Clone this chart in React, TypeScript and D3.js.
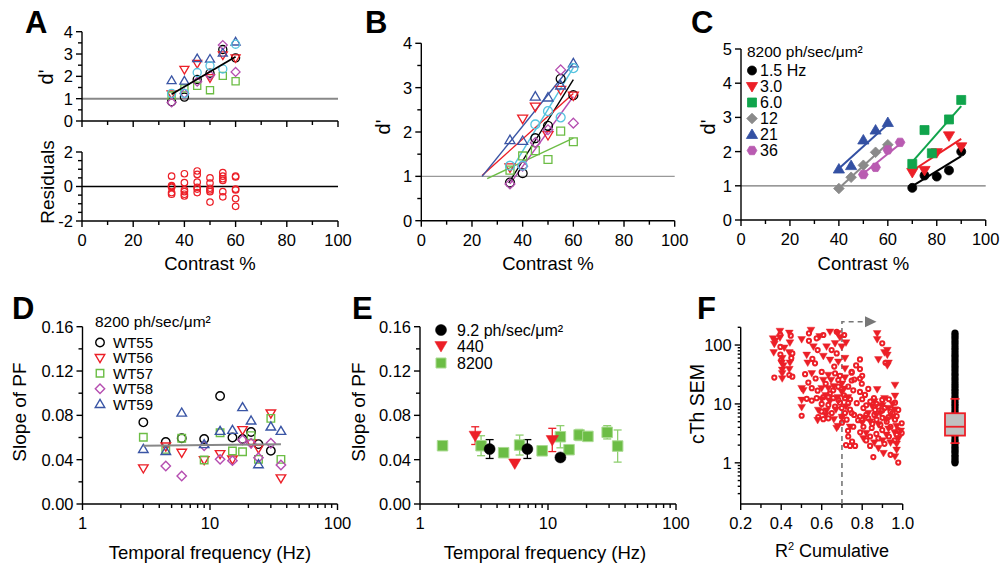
import React from 'react';
import * as d3 from 'd3';

const FONT = "'Liberation Sans', Arial, Helvetica, sans-serif";

// ---- colours ----
const BLACK = '#000';
const RED = '#ec1f27';
const GREEN = '#6cbd45';
const MAGENTA = '#b54db0';
const BLUE = '#3a55a5';
const CYAN = '#55c3df';
const C_GREEN = '#10a44c';
const C_GREY = '#8a8a8a';
const C_MAGENTA = '#b95bb1';
const C_BLUE = '#3350a3';

// ---- panels A / B : d' vs contrast ----
const contrasts = [35, 40, 45, 50, 55, 60];
const dWT55 = [0.86, 1.07, 1.86, 2.14, 3.2, 2.83];
const dWT56 = [1.2, 2.3, 2.57, 1.93, 2.95, 2.82];
const dWT57 = [1.14, 1.46, 1.58, 1.38, 2.02, 1.78];
const dWT58 = [0.83, 1.23, 1.76, 2.05, 3.4, 2.2];
const dWT59 = [1.82, 1.8, 2.8, 2.78, 3.05, 3.55];
const dMean = [1.24, 1.24, 2.17, 2.47, 2.33, 3.44];
// fit lines: [c0, d0, c1, d1]
const fitWT55 = [34.5, 0.85, 60, 3.18];
const fitWT56 = [24, 1.02, 60, 2.87];
const fitWT57 = [26, 0.95, 60, 1.86];
const fitWT58 = [35, 0.83, 60, 2.8];
const fitWT59 = [24, 1.0, 60, 3.55];
const fitMean = [35, 1.1, 60, 3.45];
const fitPooled = [35, 1.2, 60, 2.88];
// residuals per contrast
const residuals = [
  [0.6, 0.05, -0.05, -0.35, -0.45, 0.0],
  [0.74, 0.22, -0.3, -0.45, -0.55, -0.2],
  [0.9, 0.7, 0.25, -0.15, -0.35, -0.05],
  [0.5, 0.2, -0.2, -0.3, -0.9, -0.1],
  [0.8, 0.6, 0.35, -0.3, -0.6, 0.45],
  [0.6, 0.55, -0.15, -0.7, -1.15, -0.2],
];

// ---- panel C ----
const cLabels = ['1.5 Hz', '3.0', '6.0', '12', '21', '36'];
const c15x = [70, 75, 80, 85, 90];
const c15y = [0.94, 1.3, 1.27, 1.45, 2.0];
const c30x = [70, 75, 80, 85, 90];
const c30y = [1.39, 1.45, 1.97, 2.46, 2.14];
const c60x = [70, 75, 78, 85, 90];
const c60y = [1.64, 2.63, 1.95, 2.94, 3.51];
const c12x = [40, 45, 50, 55, 60];
const c12y = [0.92, 1.25, 1.6, 1.98, 2.2];
const c21x = [40, 45, 50, 55, 60];
const c21y = [1.49, 1.59, 2.34, 2.63, 2.85];
const c36x = [50, 55, 60, 65];
const c36y = [1.33, 1.54, 2.05, 2.27];
const cFit15 = [70, 0.99, 90, 1.87];
const cFit30 = [70, 1.44, 90, 2.37];
const cFit60 = [70, 1.7, 90, 3.33];
const cFit12 = [39, 0.86, 60, 2.24];
const cFit21 = [39, 1.44, 60, 2.8];
const cFit36 = [49, 1.3, 65, 2.22];

// ---- panel D ----
const dFreq = [3, 4.5, 6, 9, 12, 15, 18, 21, 24, 30, 36];
const sWT55 = [0.0737, 0.056, 0.0593, 0.0587, 0.0975, 0.06, 0.0587, 0.065, 0.054, 0.048, null];
const sWT56 = [0.0322, 0.052, 0.0463, 0.0397, 0.0451, 0.0403, 0.0668, 0.055, 0.0502, 0.0818, 0.0232];
const sWT57 = [0.0602, 0.0493, 0.0593, 0.0397, 0.0643, 0.0478, 0.0472, 0.0617, 0.0403, 0.0773, 0.0403];
const sWT58 = [null, 0.0343, 0.0253, 0.0526, 0.0403, 0.0391, 0.0578, 0.0548, 0.0418, 0.0548, 0.0352];
const sWT59 = [0.0496, 0.0478, 0.0824, 0.0539, 0.0659, 0.0668, 0.0873, 0.0752, 0.0358, 0.0698, 0.0659];
const dFit = [3, 0.0526, 36, 0.054];

// ---- panel E ----
const e92f = [3.5, 6.9, 12.5];
const e92s = [0.0496, 0.0496, 0.042];
const e92err = [0.0085, 0.0085, 0];
const e440f = [2.7, 5.5, 10.8];
const e440s = [0.0617, 0.0367, 0.0578];
const e440err = [0.008, 0, 0.0105];
const e8200f = [1.5, 3.0, 4.5, 6.0, 9.0, 12.5, 14.6, 17.5, 20.5, 29, 35];
const e8200s = [0.0526, 0.0526, 0.0463, 0.0532, 0.048, 0.0607, 0.049, 0.0623, 0.061, 0.0647, 0.0523];
const e8200err = [0.002, 0.009, 0.002, 0.009, 0.002, 0.01, 0.003, 0.005, 0.002, 0.006, 0.0145];

// ---- panel F ----
const fTri = [
  [0.394, 173], [0.36, 129], [0.366, 104], [0.394, 134], [0.44, 161], [0.443, 110], [0.363, 75], [0.44, 75],
  [0.405, 60], [0.402, 50], [0.443, 50], [0.44, 39], [0.405, 38], [0.405, 33], [0.405, 27], [0.37, 118],
  [0.415, 90], [0.41, 45],
  [0.501, 125], [0.547, 180], [0.641, 168], [0.679, 158], [0.559, 94], [0.624, 94], [0.666, 107], [0.699, 94],
  [0.526, 68], [0.531, 50], [0.608, 65], [0.641, 56], [0.682, 52], [0.715, 60], [0.715, 40], [0.551, 33],
  [0.633, 31], [0.608, 25.5], [0.646, 25.5], [0.715, 28], [0.501, 18.5], [0.509, 17], [0.6, 18.5], [0.633, 18.5],
  [0.699, 16], [0.501, 11.7], [0.501, 8.8], [0.583, 7.9], [0.624, 7.7], [0.674, 3.9], [0.74, 4.1], [0.69, 135],
  [0.59, 140], [0.72, 110], [0.66, 20], [0.7, 22], [0.62, 14], [0.68, 13], [0.72, 9], [0.7, 6], [0.66, 5.5],
  [0.58, 5.3], [0.68, 4.2], [0.64, 11], [0.6, 12], [0.71, 18], [0.73, 13], [0.67, 8], [0.62, 6.5],
  [0.874, 158], [0.874, 125], [0.924, 82], [0.924, 68], [0.924, 45], [0.88, 57], [0.962, 21], [0.874, 17.7],
  [0.962, 13.7], [0.806, 2.6], [0.88, 1.78], [0.905, 1.46], [0.97, 1.66], [0.962, 1.28], [0.91, 75], [0.93, 50],
  [0.85, 9], [0.87, 6.5], [0.9, 9.5], [0.93, 8.5], [0.95, 6], [0.97, 4.2], [0.96, 3.3], [0.92, 3.0], [0.88, 4.5],
  [0.84, 5], [0.82, 3.2], [0.86, 2.2], [0.9, 2.4], [0.94, 2.2], [0.98, 2.6], [0.99, 3.5], [0.95, 10], [0.91, 12.5],
  [0.8, 4.8], [0.83, 7], [0.89, 7], [0.92, 5.5], [0.96, 8], [0.86, 11], [0.81, 5.8], [0.93, 3.8], [0.97, 2.1],
];
const fCirc = [
  [0.447, 144], [0.396, 93], [0.396, 69], [0.455, 72], [0.366, 28], [0.455, 29], [0.4, 55], [0.45, 60],
  [0.44, 31], [0.395, 150],
  [0.537, 158], [0.537, 118], [0.575, 130], [0.608, 148], [0.674, 168], [0.711, 148], [0.58, 82], [0.649, 82],
  [0.674, 72], [0.554, 58], [0.567, 49], [0.662, 43], [0.748, 35], [0.518, 32], [0.6, 35], [0.666, 33],
  [0.534, 23], [0.682, 25.5], [0.748, 25], [0.551, 18.5], [0.58, 16.8], [0.657, 17], [0.682, 19.6], [0.731, 19.6],
  [0.756, 17], [0.526, 12.2], [0.551, 11.4], [0.575, 12.5], [0.608, 13], [0.633, 13.3], [0.657, 12.5], [0.682, 11.7],
  [0.715, 12.5], [0.731, 10.3], [0.633, 9.6], [0.666, 9.0], [0.699, 8.5], [0.6, 7.4], [0.583, 6.0], [0.608, 5.5],
  [0.633, 5.7], [0.501, 6.3], [0.715, 7.0], [0.723, 5.4], [0.699, 6.1], [0.731, 2.8], [0.74, 1.94], [0.62, 22],
  [0.64, 15], [0.69, 10.5], [0.71, 14], [0.6, 10], [0.65, 7], [0.74, 8], [0.74, 12], [0.76, 6.5], [0.73, 3.5],
  [0.7, 4.8], [0.57, 27], [0.69, 30], [0.75, 2.3], [0.72, 2.0],
  [0.899, 107], [0.915, 50], [0.789, 57], [0.789, 39], [0.748, 34], [0.761, 26], [0.789, 27], [0.798, 22],
  [0.789, 16], [0.814, 14.2], [0.858, 12.5], [0.899, 11.7], [0.932, 12], [0.962, 10.5], [0.773, 10.3], [0.748, 7.0],
  [0.806, 8.5], [0.864, 7.9], [0.899, 7.7], [0.94, 7.4], [0.978, 7.9], [0.789, 6.1], [0.83, 5.7], [0.871, 5.4],
  [0.921, 5.0], [0.962, 5.4], [0.995, 4.7], [0.756, 4.1], [0.806, 4.1], [0.847, 3.9], [0.899, 3.6], [0.94, 4.1],
  [0.978, 3.6], [0.839, 2.8], [0.88, 2.6], [0.932, 2.8], [0.97, 3.0], [0.995, 3.2], [0.765, 1.94], [0.839, 1.94],
  [0.855, 1.25], [0.94, 1.37], [0.978, 1.01], [0.82, 9.5], [0.84, 11], [0.86, 6.5], [0.88, 9], [0.91, 8.5],
  [0.93, 6], [0.95, 7], [0.97, 6.2], [0.89, 4.4], [0.85, 4.6], [0.82, 6.5], [0.8, 12], [0.83, 18], [0.87, 10],
  [0.9, 5.8], [0.96, 2.4], [0.91, 2.1], [0.87, 3.1], [0.82, 2.4], [0.79, 3.3], [0.78, 5.3], [0.8, 30], [0.77, 45],
];
const fSemAll = [1.0, 1.05, 1.15, 1.25, 1.35, 1.5, 1.6, 1.75, 1.9, 2.1, 2.3, 2.5, 2.8, 3.1, 3.4, 3.8, 4.2, 4.6,
  5.1, 5.6, 6.2, 6.8, 7.5, 8.3, 9.2, 10, 11, 12.2, 13.5, 15, 16.5, 18, 20, 22, 24.5, 27, 30, 33, 37, 41, 45, 50,
  55, 61, 67, 74, 82, 90, 100, 110, 122, 135, 148, 160];
const fBox = { lo: 2.16, q1: 2.9, med: 4.1, q3: 6.95, hi: 12.2 };
const fCutoff = 0.7;

type Shape = 'circle' | 'triUp' | 'triDown' | 'square' | 'diamond' | 'hex';

function markerPath(shape: Shape, s: number) {
  const h = s / 2;
  switch (shape) {
    case 'triUp': return `M0,${-h * 1.1}L${h * 1.12},${h * 0.8}L${-h * 1.12},${h * 0.8}Z`;
    case 'triDown': return `M0,${h * 1.1}L${h * 1.12},${-h * 0.8}L${-h * 1.12},${-h * 0.8}Z`;
    case 'square': return `M${-h},${-h}H${h}V${h}H${-h}Z`;
    case 'diamond': return `M0,${-h * 1.25}L${h * 1.25},0L0,${h * 1.25}L${-h * 1.25},0Z`;
    case 'hex': {
      const r = h * 1.08;
      const pts = d3.range(6).map(i => {
        const a = (Math.PI / 3) * i;
        return [r * Math.cos(a), r * Math.sin(a)];
      });
      return 'M' + pts.map(p => p.join(',')).join('L') + 'Z';
    }
    default: return `M${h},0A${h},${h} 0 1,1 ${-h},0A${h},${h} 0 1,1 ${h},0Z`;
  }
}

function Mk({ shape, x, y, size, color, filled = false, sw = 1.3, stroke }: any) {
  return (
    <path
      transform={`translate(${x},${y})`}
      d={markerPath(shape, size)}
      fill={filled ? color : 'none'}
      stroke={stroke || color}
      strokeWidth={sw}
    />
  );
}

function BottomAxis({ scale, y, major, minor = [], labels = true, fmt = (v: number) => String(v), minorLen = 4 }: any) {
  const [a, b] = scale.range();
  return (
    <g>
      <g stroke="#000" strokeWidth={1.4}>
        <line x1={a} x2={b} y1={y} y2={y} />
        {major.map((v: number) => <line key={'M' + v} x1={scale(v)} x2={scale(v)} y1={y} y2={y + 6} />)}
        {minor.map((v: number) => <line key={'m' + v} x1={scale(v)} x2={scale(v)} y1={y} y2={y + minorLen} />)}
      </g>
      {labels && major.map((v: number) => (
        <text key={'t' + v} x={scale(v)} y={y + 25} textAnchor="middle" fontSize={16.5}>{fmt(v)}</text>
      ))}
    </g>
  );
}

function LeftAxis({ scale, x, major, minor = [], fmt = (v: number) => String(v), minorLen = 4 }: any) {
  const [a, b] = scale.range();
  return (
    <g>
      <g stroke="#000" strokeWidth={1.4}>
        <line x1={x} x2={x} y1={a} y2={b} />
        {major.map((v: number) => <line key={'M' + v} x1={x - 6} x2={x} y1={scale(v)} y2={scale(v)} />)}
        {minor.map((v: number) => <line key={'m' + v} x1={x - minorLen} x2={x} y1={scale(v)} y2={scale(v)} />)}
      </g>
      {major.map((v: number) => (
        <text key={'t' + v} x={x - 9} y={scale(v)} dy="0.36em" textAnchor="end" fontSize={16.5}>{fmt(v)}</text>
      ))}
    </g>
  );
}

function FitLine({ fit, sx, sy, color, w = 1.4 }: any) {
  return <line x1={sx(fit[0])} y1={sy(fit[1])} x2={sx(fit[2])} y2={sy(fit[3])} stroke={color} strokeWidth={w} />;
}

function PanelLetter({ x, y, t }: any) {
  return <text x={x} y={y} fontSize={31} fontWeight="bold">{t}</text>;
}

function YTitle({ x, y, children, size = 19 }: any) {
  return (
    <text transform={`translate(${x},${y}) rotate(-90)`} textAnchor="middle" dy="0.35em" fontSize={size}>{children}</text>
  );
}

export default function App() {
  const W = 1001, H = 564;

  const wt = [
    { key: 'WT55', shape: 'circle', color: BLACK, d: dWT55, fit: fitWT55, s: sWT55, size: 8.5 },
    { key: 'WT56', shape: 'triDown', color: RED, d: dWT56, fit: fitWT56, s: sWT56, size: 8.5 },
    { key: 'WT57', shape: 'square', color: GREEN, d: dWT57, fit: fitWT57, s: sWT57, size: 7.5 },
    { key: 'WT58', shape: 'diamond', color: MAGENTA, d: dWT58, fit: fitWT58, s: sWT58, size: 7.5 },
    { key: 'WT59', shape: 'triUp', color: BLUE, d: dWT59, fit: fitWT59, s: sWT59, size: 8.5 },
  ];
  const ab = [...wt, { key: 'mean', shape: 'circle', color: CYAN, d: dMean, fit: fitMean, s: [], size: 8.5 }];

  const cSeries = [
    { shape: 'circle', color: BLACK, x: c15x, y: c15y, fit: cFit15, size: 9 },
    { shape: 'triDown', color: RED, x: c30x, y: c30y, fit: cFit30, size: 10 },
    { shape: 'square', color: C_GREEN, x: c60x, y: c60y, fit: cFit60, size: 9 },
    { shape: 'diamond', color: C_GREY, x: c12x, y: c12y, fit: cFit12, size: 8.5 },
    { shape: 'triUp', color: C_BLUE, x: c21x, y: c21y, fit: cFit21, size: 10 },
    { shape: 'hex', color: C_MAGENTA, x: c36x, y: c36y, fit: cFit36, size: 9 },
  ];

  // scales
  const axA = d3.scaleLinear().domain([0, 100]).range([82, 338]);
  const ayA = d3.scaleLinear().domain([0, 4]).range([121, 31.7]);
  const ayR = d3.scaleLinear().domain([-2, 2]).range([221, 152]);
  const axB = d3.scaleLinear().domain([0, 100]).range([421.3, 674.7]);
  const ayB = d3.scaleLinear().domain([0, 4]).range([220.7, 43.3]);
  const axC = d3.scaleLinear().domain([0, 100]).range([741, 985.7]);
  const ayC = d3.scaleLinear().domain([0, 5]).range([220, 49]);
  const axD = d3.scaleLog().domain([1, 100]).range([82.5, 337.5]);
  const ayD = d3.scaleLinear().domain([0, 0.16]).range([504, 326.7]);
  const axE = d3.scaleLog().domain([1, 100]).range([420, 676]);
  const ayE = d3.scaleLinear().domain([0, 0.16]).range([504, 326.7]);
  const axF = d3.scaleLinear().domain([0.2, 1]).range([740.7, 902.7]);
  const ayF = d3.scaleLog().domain([0.2, 200]).range([504, 327.3]);

  const tens = [10, 30, 50, 70, 90];
  const fifties = [0, 20, 40, 60, 80, 100];
  const halves4 = [0.5, 1.5, 2.5, 3.5];
  const logMinor = [2, 3, 4, 5, 6, 7, 8, 9, 20, 30, 40, 50, 60, 70, 80, 90];
  const fLogMinor = [0.3, 0.4, 0.5, 0.6, 0.7, 0.8, 0.9, 2, 3, 4, 5, 6, 7, 8, 9, 20, 30, 40, 50, 60, 70, 80, 90, 200];
  const slopeTicks = [0, 0.04, 0.08, 0.12, 0.16];
  const slopeMinor = [0.02, 0.06, 0.1, 0.14];

  const boxX = 955;

  return (
    <svg width={W} height={H} style={{ position: 'absolute', left: 0, top: 0, display: 'block', background: '#fff' }}
      fontFamily={FONT} fill="#000">
      {/* ---------- A ---------- */}
      <PanelLetter x={25} y={33} t="A" />
      <line x1={axA(0)} x2={axA(100)} y1={ayA(1)} y2={ayA(1)} stroke="#888" strokeWidth={2} />
      <LeftAxis scale={ayA} x={82} major={[0, 1, 2, 3, 4]} minor={halves4} />
      <BottomAxis scale={axA} y={121} major={fifties} minor={tens} labels={false} />
      {ab.map(s => contrasts.map((c, i) => (
        <Mk key={s.key + 'a' + c} shape={s.shape} x={axA(c)} y={ayA(s.d[i])} size={s.size * 0.95} color={s.color} />
      )))}
      <FitLine fit={fitPooled} sx={axA} sy={ayA} color="#000" w={1.8} />
      <YTitle x={46} y={77} size={20}>d'</YTitle>

      <line x1={axA(0)} x2={axA(100)} y1={ayR(0)} y2={ayR(0)} stroke="#000" strokeWidth={1.6} />
      <LeftAxis scale={ayR} x={82} major={[-2, 0, 2]} minor={[-1.5, -1, -0.5, 0.5, 1, 1.5]} />
      <BottomAxis scale={axA} y={221} major={fifties} minor={tens} />
      {residuals.map((col, i) => col.map((r, j) => (
        <Mk key={'r' + i + j} shape="circle" x={axA(contrasts[i])} y={ayR(r)} size={6.5} color={RED} sw={1.2} />
      )))}
      <YTitle x={47} y={182}>Residuals</YTitle>
      <text x={axA(50)} y={270} textAnchor="middle" fontSize={18.5}>Contrast %</text>

      {/* ---------- B ---------- */}
      <PanelLetter x={365} y={33} t="B" />
      <line x1={axB(0)} x2={axB(100)} y1={ayB(1)} y2={ayB(1)} stroke="#999" strokeWidth={1.4} />
      <LeftAxis scale={ayB} x={421.3} major={[0, 1, 2, 3, 4]} minor={halves4} />
      <BottomAxis scale={axB} y={220.7} major={fifties} minor={tens} />
      {ab.map(s => <FitLine key={s.key + 'f'} fit={s.fit} sx={axB} sy={ayB} color={s.color} w={1.4} />)}
      {ab.map(s => contrasts.map((c, i) => (
        <Mk key={s.key + 'b' + c} shape={s.shape} x={axB(c)} y={ayB(s.d[i])} size={s.size * 1.05} color={s.color} />
      )))}
      <YTitle x={383} y={127} size={20}>d'</YTitle>
      <text x={axB(50)} y={270} textAnchor="middle" fontSize={18.5}>Contrast %</text>

      {/* ---------- C ---------- */}
      <PanelLetter x={691} y={33} t="C" />
      <line x1={axC(0)} x2={axC(100)} y1={ayC(1)} y2={ayC(1)} stroke="#777" strokeWidth={1.2} />
      <LeftAxis scale={ayC} x={741} major={[0, 1, 2, 3, 4, 5]} />
      <BottomAxis scale={axC} y={220} major={fifties} minor={tens} />
      {cSeries.map((s, k) => <FitLine key={'cf' + k} fit={s.fit} sx={axC} sy={ayC} color={s.color} w={2} />)}
      {cSeries.map((s, k) => s.x.map((c, i) => (
        <Mk key={'c' + k + i} shape={s.shape} x={axC(c)} y={ayC(s.y[i])} size={s.size} color={s.color} filled sw={0.8} />
      )))}
      <YTitle x={708} y={127} size={20}>d'</YTitle>
      <text x={axC(50)} y={270} textAnchor="middle" fontSize={18.5}>Contrast %</text>
      <text x={747} y={57} fontSize={15.5}>8200 ph/sec/μm²</text>
      {cSeries.map((s, k) => (
        <g key={'cl' + k}>
          <Mk shape={s.shape} x={752} y={70.5 + 16 * k} size={s.size} color={s.color} filled sw={0.8} />
          <text x={760} y={70.5 + 16 * k} dy="0.36em" fontSize={16}>{cLabels[k]}</text>
        </g>
      ))}

      {/* ---------- D ---------- */}
      <PanelLetter x={12} y={319} t="D" />
      <LeftAxis scale={ayD} x={82.5} major={slopeTicks} minor={slopeMinor} fmt={(v: number) => v.toFixed(2)} />
      <BottomAxis scale={axD} y={504} major={[1, 10, 100]} minor={logMinor} minorLen={4} />
      {wt.map(s => dFreq.map((f, i) => s.s[i] == null ? null : (
        <Mk key={s.key + 'd' + f} shape={s.shape} x={axD(f)} y={ayD(s.s[i] as number)} size={s.size} color={s.color} sw={1.4} />
      )))}
      <FitLine fit={dFit} sx={axD} sy={ayD} color="#888" w={2} />
      <YTitle x={19} y={412}>Slope of PF</YTitle>
      <text x={210} y={559} textAnchor="middle" fontSize={18.5}>Temporal frequency (Hz)</text>
      <text x={95} y={327} fontSize={15.5}>8200 ph/sec/μm²</text>
      {wt.map((s, k) => (
        <g key={'dl' + k}>
          <Mk shape={s.shape} x={100} y={342.5 + 15.4 * k} size={s.size} color={s.color} sw={1.4} />
          <text x={113} y={342.5 + 15.4 * k} dy="0.36em" fontSize={15}>{s.key}</text>
        </g>
      ))}

      {/* ---------- E ---------- */}
      <PanelLetter x={352} y={319} t="E" />
      <LeftAxis scale={ayE} x={420} major={slopeTicks} minor={slopeMinor} fmt={(v: number) => v.toFixed(2)} />
      <BottomAxis scale={axE} y={504} major={[1, 10, 100]} minor={logMinor} minorLen={4} />
      {[
        { f: e8200f, s: e8200s, e: e8200err, color: '#8fcf70' },
        { f: e92f, s: e92s, e: e92err, color: '#000' },
        { f: e440f, s: e440s, e: e440err, color: RED },
      ].map((g, k) => g.f.map((f, i) => g.e[i] > 0.001 ? (
        <g key={'eb' + k + i} stroke={g.color} strokeWidth={1.3}>
          <line x1={axE(f)} x2={axE(f)} y1={ayE(g.s[i] - g.e[i])} y2={ayE(g.s[i] + g.e[i])} />
          <line x1={axE(f) - 4} x2={axE(f) + 4} y1={ayE(g.s[i] - g.e[i])} y2={ayE(g.s[i] - g.e[i])} />
          <line x1={axE(f) - 4} x2={axE(f) + 4} y1={ayE(g.s[i] + g.e[i])} y2={ayE(g.s[i] + g.e[i])} />
        </g>
      ) : null))}
      {e8200f.map((f, i) => (
        <Mk key={'eg' + i} shape="square" x={axE(f)} y={ayE(e8200s[i])} size={10.5} color={GREEN} stroke="#a9da90" filled sw={1} />
      ))}
      {e92f.map((f, i) => (
        <Mk key={'ek' + i} shape="circle" x={axE(f)} y={ayE(e92s[i])} size={11} color="#000" filled sw={0.5} />
      ))}
      {e440f.map((f, i) => (
        <Mk key={'er' + i} shape="triDown" x={axE(f)} y={ayE(e440s[i])} size={11} color={RED} filled sw={0.5} />
      ))}
      <YTitle x={358} y={412}>Slope of PF</YTitle>
      <text x={545} y={559} textAnchor="middle" fontSize={18.5}>Temporal frequency (Hz)</text>
      <Mk shape="circle" x={441} y={330} size={11} color="#000" filled sw={0.5} />
      <text x={457} y={330} dy="0.36em" fontSize={16}>9.2 ph/sec/μm²</text>
      <Mk shape="triDown" x={441} y={346} size={11} color={RED} filled sw={0.5} />
      <text x={457} y={346} dy="0.36em" fontSize={16}>440</text>
      <Mk shape="square" x={441} y={363} size={10} color={GREEN} stroke="#a9da90" filled sw={1} />
      <text x={457} y={363} dy="0.36em" fontSize={16}>8200</text>

      {/* ---------- F ---------- */}
      <PanelLetter x={697} y={319} t="F" />
      <LeftAxis scale={ayF} x={740.7} major={[1, 10, 100]} minor={fLogMinor} minorLen={3} />
      <BottomAxis scale={axF} y={504} major={[0.2, 0.4, 0.6, 0.8, 1.0]} minor={[0.3, 0.5, 0.7, 0.9]} fmt={(v: number) => v.toFixed(1)} />
      <path
        d={`M${axF(fCutoff)},504V321.7H865`}
        fill="none" stroke="#777" strokeWidth={1.6} strokeDasharray="5,4"
      />
      <path d="M865,316.2L876.5,321.7L865,327.2Z" fill="#777" />
      {fTri.map((p, i) => (
        <Mk key={'ft' + i} shape="triDown" x={axF(p[0])} y={ayF(p[1])} size={7} color={RED} filled sw={0.4} />
      ))}
      {fCirc.map((p, i) => (
        <Mk key={'fc' + i} shape="circle" x={axF(p[0])} y={ayF(p[1])} size={4.2} color={RED} sw={2} />
      ))}
      {fSemAll.map((v, i) => (
        <circle key={'fb' + i} cx={boxX} cy={ayF(v)} r={3.6} fill="#000" />
      ))}
      <g stroke={RED} strokeWidth={1.8}>
        <line x1={boxX} x2={boxX} y1={ayF(fBox.hi)} y2={ayF(fBox.q3)} />
        <line x1={boxX} x2={boxX} y1={ayF(fBox.q1)} y2={ayF(fBox.lo)} />
        <line x1={boxX - 4.5} x2={boxX + 4.5} y1={ayF(fBox.hi)} y2={ayF(fBox.hi)} />
        <line x1={boxX - 4.5} x2={boxX + 4.5} y1={ayF(fBox.lo)} y2={ayF(fBox.lo)} />
        <rect x={boxX - 10} width={20} y={ayF(fBox.q3)} height={ayF(fBox.q1) - ayF(fBox.q3)} fill="#c0c0c0" />
        <line x1={boxX - 10} x2={boxX + 10} y1={ayF(fBox.med)} y2={ayF(fBox.med)} />
      </g>
      <YTitle x={697} y={404} size={19.5}>cTh SEM</YTitle>
      <text x={832} y={557} textAnchor="middle" fontSize={18}>
        R<tspan fontSize={11} dy="-7">2</tspan><tspan dy="7"> Cumulative</tspan>
      </text>
    </svg>
  );
}
